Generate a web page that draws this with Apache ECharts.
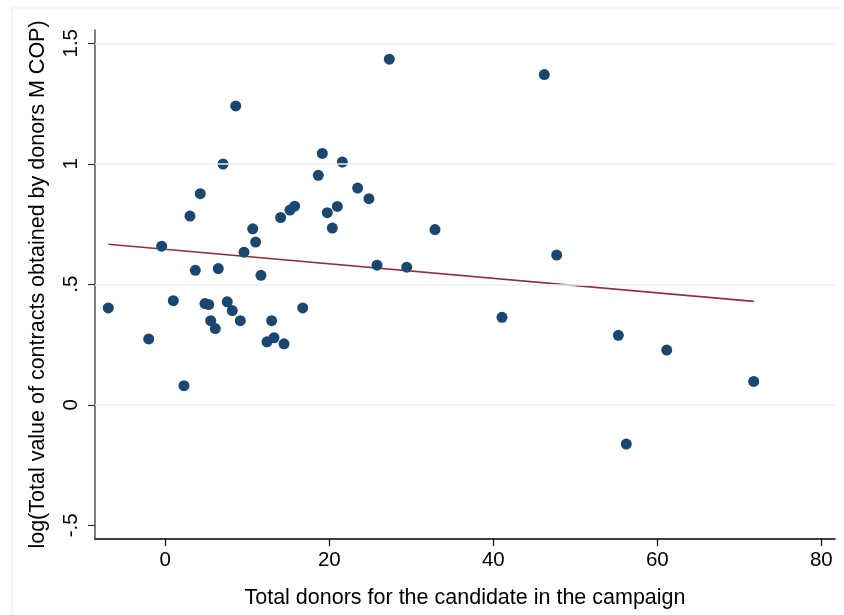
<!DOCTYPE html>
<html>
<head>
<meta charset="utf-8">
<script src="https://cdn.jsdelivr.net/npm/echarts@6/dist/echarts.min.js"></script>
<style>
  html, body { margin: 0; padding: 0; background: #ffffff; }
  #chart { width: 844px; height: 615px; }
</style>
</head>
<body>
<div id="chart"></div>
<script>
// Candidates: number of donors vs. log of contract value obtained by donors
const donors = [
  -6.95, -2.02, -0.44, 0.98, 2.28, 3.01, 3.66, 4.27, 4.84, 5.29,
  5.54, 6.10, 6.46, 7.04, 7.56, 8.17, 8.59, 9.15, 9.60, 10.66,
  11.02, 11.67, 12.40, 12.97, 13.26, 14.07, 14.48, 15.21, 15.78, 16.76,
  18.66, 19.15, 19.76, 20.37, 20.98, 21.59, 23.46, 24.84, 25.82, 27.32,
  29.44, 32.89, 41.06, 46.22, 47.73, 55.25, 56.22, 61.15, 71.76
];
const logContracts = [
  0.402, 0.273, 0.658, 0.432, 0.079, 0.783, 0.558, 0.876, 0.420, 0.416,
  0.349, 0.316, 0.565, 0.999, 0.427, 0.391, 1.240, 0.349, 0.633, 0.730,
  0.675, 0.537, 0.261, 0.349, 0.278, 0.777, 0.253, 0.808, 0.824, 0.402,
  0.952, 1.043, 0.797, 0.733, 0.823, 1.007, 0.899, 0.855, 0.579, 1.434,
  0.571, 0.727, 0.363, 1.370, 0.621, 0.288, -0.163, 0.227, 0.097
];

// Linear fit endpoints
const fitX = [-6.95, 71.76];
const fitY = [0.666, 0.429];

// Axis ticks
const xTickValues = [0, 20, 40, 60, 80];
const yTickValues = [-0.5, 0, 0.5, 1, 1.5];
const yTickLabels = ['-.5', '0', '.5', '1', '1.5'];
const yGridValues = [0, 0.5, 1, 1.5];

const xTitle = 'Total donors for the candidate in the campaign';
const yTitle = 'log(Total value of contracts obtained by donors M COP)';

const points = donors.map((d, i) => [d, logContracts[i]]);
const fitLine = fitX.map((d, i) => [d, fitY[i]]);

const FONT = '"Liberation Sans", Arial, sans-serif';

const chart = echarts.init(document.getElementById('chart'), null, { renderer: 'canvas' });

chart.setOption({
  animation: false,
  backgroundColor: '#ffffff',
  graphic: [{
    type: 'rect',
    shape: { x: 12, y: 8, width: 900, height: 700 },
    style: { fill: 'none', stroke: '#e4ecef', lineWidth: 1.2 },
    silent: true,
    z: -10
  }],
  grid: { left: 95, right: 9, top: 30, bottom: 76, containLabel: false },
  xAxis: {
    type: 'value',
    min: -8.57,
    max: 81.67,
    name: xTitle,
    nameLocation: 'middle',
    nameGap: 48,
    nameTextStyle: { fontFamily: FONT, fontSize: 21.5, color: '#000000' },
    axisLine: { show: true, onZero: false, lineStyle: { color: '#000000', width: 1.5 } },
    axisTick: { show: true, customValues: xTickValues, length: 7, lineStyle: { color: '#000000', width: 1.2 } },
    axisLabel: {
      customValues: xTickValues,
      margin: 11,
      fontFamily: FONT, fontSize: 20.5, color: '#000000'
    },
    splitLine: { show: false }
  },
  yAxis: {
    type: 'value',
    min: -0.557,
    max: 1.555,
    name: yTitle,
    nameLocation: 'middle',
    nameGap: 46,
    nameRotate: 90,
    nameTextStyle: { fontFamily: FONT, fontSize: 21.5, color: '#000000' },
    axisLine: { show: true, onZero: false, lineStyle: { color: '#555555', width: 1.5 } },
    axisTick: { show: true, customValues: yTickValues, length: 7, lineStyle: { color: '#333333', width: 1.2 } },
    axisLabel: {
      customValues: yTickValues,
      rotate: 90,
      margin: 13,
      fontFamily: FONT, fontSize: 20.5, color: '#000000',
      formatter: v => {
        const i = yTickValues.findIndex(t => Math.abs(t - v) < 1e-9);
        return i >= 0 ? yTickLabels[i] : '';
      }
    },
    splitLine: { show: false }
  },
  series: [
    {
      name: 'grid',
      type: 'line',
      data: [],
      silent: true,
      markLine: {
        silent: true,
        symbol: 'none',
        label: { show: false },
        lineStyle: { color: '#e8eff2', width: 1.6, type: 'solid' },
        data: yGridValues.map(v => ({ yAxis: v }))
      },
      z: 0
    },
    {
      name: 'Fitted values',
      type: 'line',
      data: fitLine,
      showSymbol: false,
      symbol: 'none',
      lineStyle: { color: '#90303a', width: 1.6 },
      z: 2
    },
    {
      name: 'Candidates',
      type: 'scatter',
      data: points,
      symbol: 'circle',
      symbolSize: 11,
      itemStyle: { color: '#1a476f', opacity: 1 },
      z: 3
    }
  ]
});
</script>
</body>
</html>
